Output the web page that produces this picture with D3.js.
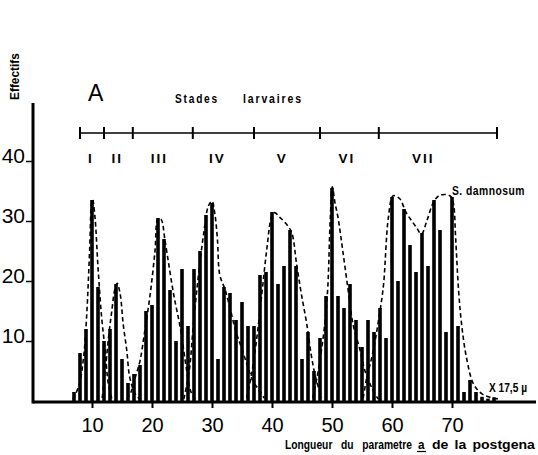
<!DOCTYPE html>
<html>
<head>
<meta charset="utf-8">
<script src="https://cdn.jsdelivr.net/npm/d3@7"></script>
<style>
  html, body { margin: 0; padding: 0; background: #fff; }
  svg { display: block; }
</style>
</head>
<body>
<svg id="chart" width="538" height="455"></svg>
<script>
// Length classes of the postgena parameter "a" (units of 17.5 µ)
const lengths = [7, 8, 9, 10, 11, 12, 13, 14, 15, 16, 17, 18, 19, 20, 21, 22, 23, 24, 25, 26,
  27, 28, 29, 30, 31, 32, 33, 34, 35, 36, 37, 38, 39, 40, 41, 42, 43, 44, 45, 46,
  47, 48, 49, 50, 51, 52, 53, 54, 55, 56, 57, 58, 59, 60, 61, 62, 63, 64, 65, 66,
  67, 68, 69, 70, 71, 72, 73, 74, 75, 76, 77];

// Number of larvae (Effectifs) in each length class
const counts = [1.5, 8, 12, 33.5, 19, 10, 12, 19.5, 7, 3, 4.5, 6, 15, 16, 30.5, 27, 18.5, 10, 22, 12.5,
  22, 25, 31, 33, 7, 19, 18, 13.5, 16.5, 12.5, 12.5, 21, 21.5, 31.5, 19.5, 22.5, 28.5, 22.5, 7, 11.5,
  5, 10.5, 17.5, 35.5, 17.5, 15.5, 19.5, 13.5, 9, 13.5, 11.5, 15.5, 10.5, 34, 20, 32, 26, 21.5, 28, 22.5,
  33.5, 28.5, 11.5, 34, 12.5, 1.5, 3.5, 1.5, 0.7, 0.4, 0.6];

// Envelope of each larval instar (length, count)
const envI = [[6.8,0.3],[7.8,2.5],[8.6,7.3],[9.1,14],[9.6,25],[9.9,32.6],[10.1,33.6],[10.5,30.6],[11,22.3],[11.6,14],[12.2,8.4],[12.7,3],[13.3,0.4]];
const envII = [[11.7,0.5],[12.3,6],[12.8,11],[13.3,15],[13.8,18.6],[14.2,19.6],[14.7,17.8],[15.2,12.8],[15.8,8.4],[16.3,3.9],[17.2,1.2],[18,0.3]];
const envIII = [[15.8,0.3],[16.5,1.5],[17.2,3.9],[18,6.7],[18.8,11.7],[19.7,17.8],[20.5,25],[21,30.4],[21.5,30.3],[22.2,26.5],[23.6,17.8],[24.7,12.3],[25.8,5],[26.5,1.5],[27.2,0.3]];
const envIV = [[25.3,0.3],[26.2,5],[26.9,12.8],[27.7,20.6],[28.6,27.8],[29.4,32.5],[30,33.3],[30.5,31],[30.9,27],[31.3,21],[32.2,18.5],[33,15.5],[34,11.5],[34.7,9.5],[35.7,6.5],[36.8,3.4],[37.7,2],[38.7,0.5]];
const envV = [[35.8,0.5],[36.6,4.5],[37.4,10],[38.3,17.8],[39.1,25],[39.9,30.6],[40.4,31.4],[41.3,30.6],[42.4,29.5],[43.3,28],[44.1,22.8],[44.9,17.8],[45.8,12.8],[46.6,7.3],[47.4,3.4],[48.3,0.6]];
const envVI = [[46.8,0.5],[47.7,5],[48.8,12.8],[49.3,19],[49.7,30],[50.05,35.7],[50.5,33],[51,30.6],[51.8,25],[52.7,18.4],[53.5,12.8],[54.7,8.4],[55.5,5],[56.6,2.3],[57.7,0.3]];
const envVII = [[55.2,0.5],[55.8,3.9],[56.8,8],[58,15],[58.6,19.5],[59.4,30.6],[60.2,34.2],[61.3,33.7],[62.3,31.5],[63.3,30],[64.1,28.9],[64.9,27.8],[65.8,30],[66.9,33.1],[67.8,34.2],[69,34.4],[69.9,34],[70.3,32.5],[70.6,27.3],[71.1,18.4],[71.6,12.8],[72.4,7.3],[73.6,2.8],[75,1.2],[76.4,0.6],[78,0.3]];
const envelopes = [envI, envII, envIII, envIV, envV, envVI, envVII];

// Larval stages: boundaries on the length scale and their labels
const stageBounds = [8, 12, 16.8, 26.8, 37, 48, 57.8, 77.5];
const stageNames = ["I", "II", "III", "IV", "V", "VI", "VII"];
const stageLabelAt = [9.8, 14.2, 21.25, 30.9, 41.7, 52.5, 65.2];

// Axis ticks
const xTicks = [10, 20, 30, 40, 50, 60, 70];
const yTicks = [10, 20, 30, 40];

const plain = "'Liberation Sans',Arial,Helvetica,sans-serif";

const svg = d3.select("#chart");
const x = d3.scaleLinear().domain([0, 84]).range([32, 536]);
const y = d3.scaleLinear().domain([0, 50]).range([401, 101]);

// Condensed bold lettering: a bold face squeezed horizontally to a set width
function condensed(px, py, str, size, width, opts = {}) {
  const t = svg.append("text")
    .attr("x", 0).attr("y", 0)
    .attr("font-family", plain).attr("font-weight", "bold")
    .attr("font-size", size)
    .attr("letter-spacing", opts.spacing || 0)
    .attr("word-spacing", opts.words || 0)
    .text(str);
  const natural = t.node().getComputedTextLength();
  const k = width / natural;
  t.attr("transform", `translate(${px},${py})${opts.rotate ? ` rotate(${opts.rotate})` : ""} scale(${k},1)`);
  return t;
}

// Bars
svg.append("g")
  .selectAll("rect")
  .data(lengths.map((l, i) => ({ l, c: counts[i] })))
  .join("rect")
  .attr("x", d => x(d.l) - 1.8)
  .attr("width", 3.6)
  .attr("y", d => y(d.c))
  .attr("height", d => y(0) - y(d.c))
  .attr("fill", "#000");

// Dashed envelopes of the instars
const env = d3.line()
  .x(d => x(d[0]))
  .y(d => y(d[1]))
  .curve(d3.curveCatmullRom.alpha(0.5));

svg.append("g")
  .selectAll("path")
  .data(envelopes)
  .join("path")
  .attr("d", env)
  .attr("fill", "none")
  .attr("stroke", "#000")
  .attr("stroke-width", 1.6)
  .attr("stroke-dasharray", "4.5,3");

// X axis
const xAxis = svg.append("g").attr("transform", `translate(0,${y(0) + 1})`)
  .call(d3.axisBottom(x).tickValues(xTicks).tickSize(6).tickPadding(10).tickFormat(d3.format("d")));
xAxis.select(".domain").remove();
xAxis.selectAll(".tick line").attr("stroke", "#000").attr("stroke-width", 2);
xAxis.selectAll(".tick text")
  .attr("font-family", plain).attr("font-size", 20).attr("fill", "#000");
svg.append("line")
  .attr("x1", 33).attr("x2", 536)
  .attr("y1", y(0) + 1).attr("y2", y(0) + 1)
  .attr("stroke", "#000").attr("stroke-width", 3);

// Y axis: labels sit above their tick marks
const yAxis = svg.append("g").attr("transform", "translate(33,0)")
  .call(d3.axisLeft(y).tickValues(yTicks).tickSize(7).tickPadding(0).tickFormat(d3.format("d")));
yAxis.select(".domain").remove();
yAxis.selectAll(".tick line").attr("stroke", "#000").attr("stroke-width", 1.5);
yAxis.selectAll(".tick text")
  .attr("font-family", plain).attr("font-size", 21).attr("fill", "#000")
  .attr("x", -8).attr("dy", "0.05em");
svg.append("line")
  .attr("x1", 33).attr("x2", 33)
  .attr("y1", 103).attr("y2", y(0) + 2.5)
  .attr("stroke", "#000").attr("stroke-width", 3);

// Larval stages bar
const stages = svg.append("g").attr("transform", "translate(0,133)");
stages.append("line")
  .attr("x1", x(stageBounds[0])).attr("x2", x(stageBounds[stageBounds.length - 1]))
  .attr("stroke", "#000").attr("stroke-width", 1.4);
stages.selectAll("line.bound")
  .data(stageBounds)
  .join("line")
  .attr("class", "bound")
  .attr("x1", d => x(d)).attr("x2", d => x(d))
  .attr("y1", -6).attr("y2", 6)
  .attr("stroke", "#000").attr("stroke-width", 2);
stages.selectAll("text")
  .data(stageNames)
  .join("text")
  .attr("x", (d, i) => x(stageLabelAt[i]))
  .attr("y", 30)
  .attr("text-anchor", "middle")
  .attr("font-family", plain)
  .attr("font-weight", "bold")
  .attr("font-size", 13.5)
  .attr("letter-spacing", 2)
  .text(d => d);

// Titles and annotations
condensed(19, 100, "Effectifs", 12, 47, { rotate: -90 });

svg.append("text")
  .attr("x", 88).attr("y", 101)
  .attr("font-family", plain).attr("font-size", 23)
  .text("A");

condensed(175, 103, "Stades", 13.5, 44, { spacing: 2.4 });
condensed(243, 103, "larvaires", 13.5, 60, { spacing: 2.4 });
condensed(452, 195, "S. damnosum", 13, 73, { spacing: 0.6 });
condensed(489, 392, "X 17,5 µ", 13, 38);

// Axis title, with the parameter letter underlined
condensed(285, 448.5, "Longueur du parametre", 12.5, 127, { words: 7 });
condensed(418, 448.5, "a", 12.5, 6.5);
svg.append("line")
  .attr("x1", 417).attr("x2", 426).attr("y1", 451.5).attr("y2", 451.5)
  .attr("stroke", "#000").attr("stroke-width", 1.2);
condensed(432, 448.5, "de la postgena", 12.5, 103, { words: 2 });
</script>
</body>
</html>
